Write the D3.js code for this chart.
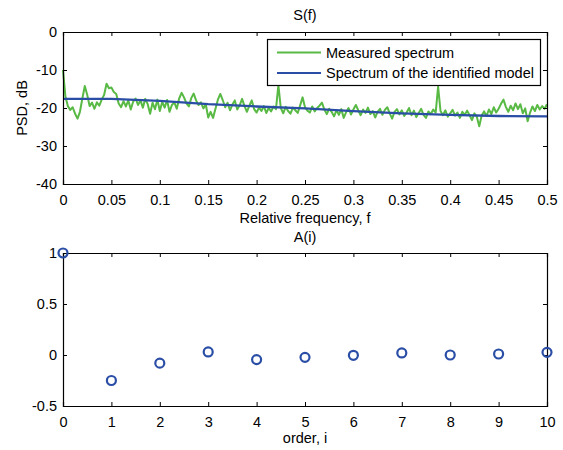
<!DOCTYPE html>
<html><head><meta charset="utf-8">
<script src="https://cdn.jsdelivr.net/npm/d3@7"></script>
<style>body{margin:0;background:#fff}svg{display:block}text{font-family:"Liberation Sans",Arial,sans-serif;font-size:14.5px;fill:#000}</style>
</head><body><svg id="c" width="563" height="450"></svg>
<script>
// ---- data ----
const fStep = 0.0025;
const measured = [-10,-17,-19.5,-20.5,-19.8,-21.5,-22.8,-21,-17.5,-14.2,
-16.5,-19.5,-18.6,-20.2,-18.5,-19.4,-17.8,-16.5,-13.6,-14.8,
-14.6,-15.8,-16.3,-18.8,-19.8,-18.2,-19.6,-18.0,-20.4,-18.3,
-17.5,-19.2,-18.0,-19.9,-17.6,-19.0,-21.5,-18.6,-20.3,-17.8,
-20.8,-18.4,-19.9,-17.9,-21.0,-19.2,-18.5,-20.2,-17.5,-16.0,
-17.2,-18.8,-19.6,-17.4,-16.2,-18.0,-19.2,-18.5,-20.1,-19.0,
-22.5,-21.0,-22.6,-20.2,-17.8,-16.3,-17.9,-19.8,-18.6,-20.6,
-19.1,-18.0,-20.4,-19.3,-17.6,-19.5,-21.0,-19.4,-18.0,-20.3,
-21.2,-19.9,-20.8,-19.5,-21.3,-20.0,-20.9,-19.6,-20.3,-14.0,
-20.0,-21.4,-19.7,-20.8,-21.5,-19.9,-20.6,-21.3,-19.3,-17.2,
-19.8,-20.7,-21.2,-19.6,-20.9,-20.0,-19.4,-18.6,-20.4,-21.6,
-20.2,-21.0,-22.2,-20.6,-21.8,-20.3,-22.6,-21.1,-20.0,-21.7,
-20.4,-19.2,-20.6,-21.9,-20.4,-21.3,-19.9,-21.6,-20.8,-22.5,
-21.0,-20.2,-21.8,-20.5,-19.8,-21.4,-22.8,-21.0,-20.3,-21.7,
-20.6,-22.1,-21.2,-20.0,-21.9,-20.7,-22.4,-21.3,-20.2,-21.8,
-22.6,-20.9,-21.6,-20.4,-21.2,-14.4,-20.8,-21.9,-20.6,-22.3,
-21.4,-20.5,-22.0,-21.2,-22.6,-21.0,-21.8,-20.7,-21.9,-23.2,
-21.4,-22.3,-24.8,-22.0,-20.9,-22.1,-20.4,-21.6,-19.8,-21.2,
-20.2,-18.9,-17.8,-19.7,-21.0,-19.4,-20.6,-18.8,-20.3,-19.0,
-21.4,-20.1,-23.5,-21.2,-19.6,-20.8,-19.2,-20.4,-19.5,-20.2,
-19.0];
const modelF = [0,0.05,0.1,0.15,0.2,0.25,0.3,0.35,0.4,0.45,0.5];
const modelS = [-17.6,-17.6,-18.1,-19.0,-19.6,-20.1,-20.8,-21.4,-21.8,-22.1,-22.2];
const orders = [0,1,2,3,4,5,6,7,8,9,10];
const coefA = [1.0,-0.25,-0.08,0.03,-0.045,-0.023,-0.003,0.02,0.0,0.01,0.026];
const fTicks = [0,0.05,0.1,0.15,0.2,0.25,0.3,0.35,0.4,0.45,0.5];
const sTicks = [0,-10,-20,-30,-40];
const iTicks = [0,1,2,3,4,5,6,7,8,9,10];
const aTicks = [1,0.5,0,-0.5];
const legendLabels = ["Measured spectrum","Spectrum of the identified model"];

const green = "#58b944", blue = "#2a4ea6";
const svg = d3.select("#c");
const L = 63, R = 547;
const fmt = d => String(d);

function frame(g, x, y, xt, yt) {
  const [x0,x1] = x.range(), [y0,y1] = y.range();
  const tl = 4;
  g.append("g").attr("class","xb").attr("transform",`translate(0,${y0})`)
    .call(d3.axisBottom(x).tickValues(xt).tickSize(-tl).tickPadding(8).tickFormat(fmt));
  g.append("g").attr("transform",`translate(0,${y1})`)
    .call(d3.axisTop(x).tickValues(xt).tickSize(-tl).tickFormat(""));
  g.append("g").attr("transform",`translate(${x0},0)`)
    .call(d3.axisLeft(y).tickValues(yt).tickSize(-tl).tickPadding(6).tickFormat(fmt));
  g.append("g").attr("transform",`translate(${x1},0)`)
    .call(d3.axisRight(y).tickValues(yt).tickSize(-tl).tickFormat(""));
  g.selectAll(".domain").attr("stroke","#000").attr("stroke-width",1.2);
  g.selectAll(".tick line").attr("stroke","#000");
  g.selectAll(".tick text").style("font-size","14.5px").style("font-family","'Liberation Sans',Arial,sans-serif").attr("fill","#000");
  g.select(".xb").selectAll(".tick text").attr("dy","0.9em");
}

// ---- top plot ----
const x1 = d3.scaleLinear().domain([0,0.5]).range([L,R]);
const y1 = d3.scaleLinear().domain([-40,0]).range([184,32]);
const g1 = svg.append("g");
g1.append("path").datum(measured)
  .attr("d", d3.line().x((d,i)=>x1(i*fStep)).y(d=>y1(d)))
  .attr("fill","none").attr("stroke",green).attr("stroke-width",2).attr("stroke-linejoin","round");
g1.append("path").datum(modelF.map((f,i)=>[f,modelS[i]]))
  .attr("d", d3.line().x(d=>x1(d[0])).y(d=>y1(d[1])))
  .attr("fill","none").attr("stroke",blue).attr("stroke-width",2.3);
frame(g1, x1, y1, fTicks, sTicks);
svg.append("text").attr("x",305).attr("y",20).attr("text-anchor","middle").text("S(f)");
svg.append("text").attr("x",305).attr("y",223).attr("text-anchor","middle").text("Relative frequency, f");
svg.append("text").attr("transform","translate(27,108) rotate(-90)").attr("text-anchor","middle").text("PSD, dB");

// legend
const lg = svg.append("g");
lg.append("rect").attr("x",267.5).attr("y",39.5).attr("width",273).attr("height",46)
  .attr("fill","#fff").attr("stroke","#000").attr("stroke-width",1.2);
[green, blue].forEach((c,i)=>{
  const yy = 52.5 + i*20.5;
  lg.append("line").attr("x1",277).attr("x2",321).attr("y1",yy).attr("y2",yy)
    .attr("stroke",c).attr("stroke-width",2);
  lg.append("text").attr("x",326).attr("y",yy+5).text(legendLabels[i]);
});

// ---- bottom plot ----
const x2 = d3.scaleLinear().domain([0,10]).range([L,R]);
const y2 = d3.scaleLinear().domain([-0.5,1]).range([406,253]);
const g2 = svg.append("g");
frame(g2, x2, y2, iTicks, aTicks);
g2.selectAll("circle.m").data(orders).enter().append("circle").attr("class","m")
  .attr("cx",d=>x2(d)).attr("cy",(d,i)=>y2(coefA[i])).attr("r",4.5)
  .attr("fill","none").attr("stroke",blue).attr("stroke-width",2.2);
svg.append("text").attr("x",305).attr("y",242).attr("text-anchor","middle").text("A(i)");
svg.append("text").attr("x",305).attr("y",443).attr("text-anchor","middle").text("order, i");
</script></body></html>
